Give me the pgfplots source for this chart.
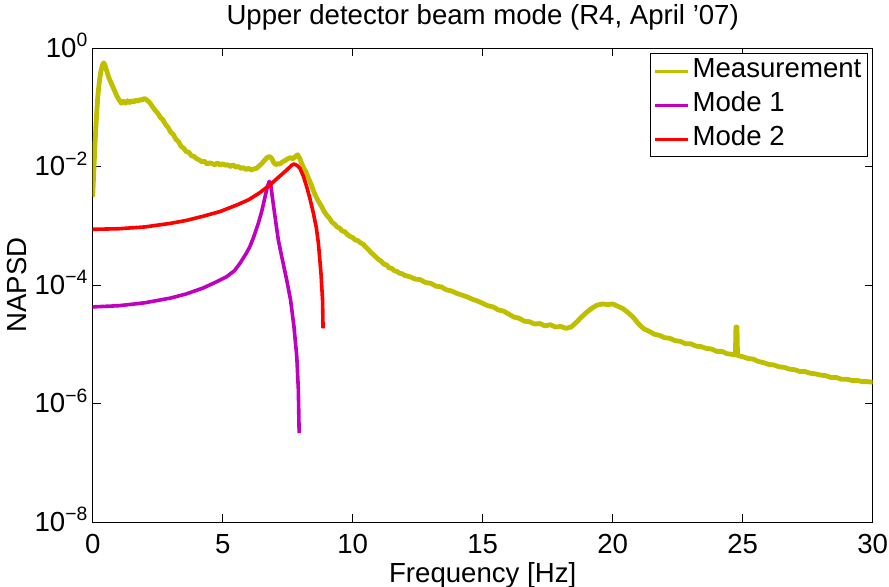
\documentclass[border=0pt]{standalone}
\usepackage{pgfplots}
\pgfplotsset{compat=1.18}
\usepackage{fontspec}
\setmainfont{Liberation Sans}
\definecolor{meas}{rgb}{0.75,0.75,0}
\definecolor{mone}{rgb}{0.75,0,0.75}
\definecolor{mtwo}{rgb}{1,0,0}

\pgfplotstableread{
f v
0.00 3.09e-3
0.04 7.94e-3
0.08 2.00e-2
0.12 4.47e-2
0.16 8.91e-2
0.20 0.158
0.26 0.282
0.32 0.417
0.38 0.525
0.43 0.562
0.48 0.501
0.55 0.398
0.62 0.316
0.70 0.263
0.78 0.219
0.86 0.182
0.94 0.151
1.02 0.132
1.10 0.117
1.18 0.126
1.26 0.117
1.34 0.129
1.42 0.120
1.50 0.129
1.58 0.123
1.66 0.132
1.74 0.126
1.82 0.135
1.90 0.132
1.98 0.141
2.06 0.135
2.14 0.126
2.22 0.115
2.30 0.102
2.40 8.91e-2
2.50 7.94e-2
2.60 6.76e-2
2.70 6.17e-2
2.80 5.13e-2
2.90 4.57e-2
3.00 3.80e-2
3.10 3.47e-2
3.20 2.88e-2
3.30 2.63e-2
3.40 2.19e-2
3.50 2.04e-2
3.60 1.78e-2
3.70 1.74e-2
3.80 1.51e-2
3.90 1.48e-2
4.00 1.35e-2
4.10 1.29e-2
4.20 1.20e-2
4.30 1.23e-2
4.40 1.10e-2
4.50 1.15e-2
4.60 1.12e-2
4.70 1.07e-2
4.80 1.15e-2
4.90 1.05e-2
5.00 1.12e-2
5.10 1.05e-2
5.20 1.07e-2
5.30 1.00e-2
5.40 1.07e-2
5.50 9.77e-3
5.60 1.00e-2
5.70 9.33e-3
5.80 9.55e-3
5.90 8.91e-3
6.00 9.33e-3
6.10 8.71e-3
6.20 9.12e-3
6.30 9.33e-3
6.40 1.02e-2
6.50 1.12e-2
6.60 1.26e-2
6.70 1.41e-2
6.80 1.48e-2
6.88 1.38e-2
6.96 1.17e-2
7.04 1.07e-2
7.12 1.12e-2
7.20 1.10e-2
7.30 1.20e-2
7.40 1.26e-2
7.50 1.35e-2
7.60 1.41e-2
7.70 1.35e-2
7.80 1.48e-2
7.88 1.58e-2
7.96 1.38e-2
8.04 1.12e-2
8.12 9.33e-3
8.20 8.13e-3
8.30 6.31e-3
8.40 5.01e-3
8.50 3.80e-3
8.60 3.02e-3
8.70 2.51e-3
8.80 2.14e-3
8.90 1.74e-3
9.00 1.51e-3
9.10 1.35e-3
9.20 1.15e-3
9.30 1.07e-3
9.40 9.55e-4
9.50 9.12e-4
9.60 8.13e-4
9.70 7.94e-4
9.80 7.08e-4
9.90 6.61e-4
10.0 6.31e-4
10.1 5.75e-4
10.2 5.62e-4
10.3 5.13e-4
10.4 4.90e-4
10.5 4.37e-4
10.6 3.98e-4
10.7 3.55e-4
10.8 3.24e-4
10.9 2.95e-4
11.0 2.69e-4
11.1 2.51e-4
11.2 2.24e-4
11.3 2.19e-4
11.4 1.95e-4
11.5 1.91e-4
11.6 1.74e-4
11.7 1.70e-4
11.8 1.58e-4
11.9 1.55e-4
12.0 1.45e-4
12.2 1.38e-4
12.4 1.26e-4
12.6 1.23e-4
12.8 1.10e-4
13.0 1.07e-4
13.2 9.55e-5
13.4 9.33e-5
13.6 8.32e-5
13.8 7.94e-5
14.0 7.24e-5
14.2 6.76e-5
14.4 6.31e-5
14.6 5.75e-5
14.8 5.37e-5
15.0 4.90e-5
15.2 4.47e-5
15.4 4.27e-5
15.6 3.80e-5
15.8 3.63e-5
16.0 3.24e-5
16.2 2.88e-5
16.4 2.75e-5
16.6 2.45e-5
16.8 2.40e-5
17.0 2.19e-5
17.2 2.24e-5
17.4 2.04e-5
17.6 2.14e-5
17.8 1.95e-5
18.0 2.00e-5
18.2 1.86e-5
18.4 1.95e-5
18.6 2.34e-5
18.8 2.88e-5
19.0 3.47e-5
19.2 4.07e-5
19.4 4.57e-5
19.6 4.79e-5
19.8 4.68e-5
20.0 4.79e-5
20.2 4.37e-5
20.4 3.98e-5
20.6 3.39e-5
20.8 2.82e-5
21.0 2.19e-5
21.2 1.82e-5
21.4 1.66e-5
21.6 1.48e-5
21.8 1.41e-5
22.0 1.29e-5
22.2 1.26e-5
22.4 1.15e-5
22.6 1.12e-5
22.8 1.02e-5
23.0 1.02e-5
23.2 9.33e-6
23.4 9.12e-6
23.6 8.51e-6
23.8 8.32e-6
24.0 7.59e-6
24.2 7.59e-6
24.4 6.92e-6
24.6 6.76e-6
24.72 6.61e-6
24.74 1.95e-5
24.78 1.95e-5
24.80 6.46e-6
25.0 6.17e-6
25.2 5.75e-6
25.4 5.62e-6
25.6 5.13e-6
25.8 4.90e-6
26.0 4.57e-6
26.2 4.47e-6
26.4 4.17e-6
26.6 4.07e-6
26.8 3.80e-6
27.0 3.72e-6
27.2 3.47e-6
27.4 3.47e-6
27.6 3.24e-6
27.8 3.16e-6
28.0 3.02e-6
28.2 2.95e-6
28.4 2.75e-6
28.6 2.75e-6
28.8 2.57e-6
29.0 2.57e-6
29.2 2.45e-6
29.4 2.45e-6
29.6 2.34e-6
29.8 2.34e-6
30.0 2.29e-6
}\measdata

\pgfplotstableread{
f v
0.00 4.27e-5
1.00 4.47e-5
2.00 5.01e-5
3.00 6.03e-5
3.60 7.08e-5
4.25 8.91e-5
4.70 1.10e-4
5.15 1.38e-4
5.45 1.74e-4
5.67 2.34e-4
5.90 3.39e-4
6.05 4.47e-4
6.20 6.61e-4
6.37 1.10e-3
6.50 1.74e-3
6.63 3.09e-3
6.72 4.57e-3
6.79 5.62e-3
6.85 4.79e-3
6.92 2.82e-3
7.01 1.45e-3
7.14 5.75e-4
7.27 3.02e-4
7.46 1.23e-4
7.61 5.62e-5
7.74 2.00e-5
7.85 6.17e-6
7.91 1.70e-6
7.94 3.16e-7
}\modeone

\pgfplotstableread{
f v
0.00 8.71e-4
1.00 8.91e-4
2.00 9.55e-4
3.00 1.10e-3
3.60 1.23e-3
4.25 1.45e-3
4.90 1.74e-3
5.54 2.24e-3
6.00 2.75e-3
6.40 3.55e-3
6.82 4.90e-3
7.15 6.61e-3
7.46 8.71e-3
7.65 1.05e-2
7.74 1.10e-2
7.85 1.05e-2
7.97 9.33e-3
8.10 6.92e-3
8.23 4.57e-3
8.36 2.82e-3
8.49 1.62e-3
8.60 9.33e-4
8.68 5.13e-4
8.78 1.58e-4
8.84 5.62e-5
8.86 1.86e-5
}\modetwo

\begin{document}
\begin{tikzpicture}
\begin{axis}[
  scale only axis,
  width=390pt, height=237pt,
  xmin=0, xmax=30, ymin=1e-8, ymax=1,
  ymode=log,
  font=\fontsize{13.8}{16}\selectfont,
  xtick={0,5,10,15,20,25,30},
  xticklabels={0,5,10,15,20,25,30},
  ytick={1e-8,1e-6,1e-4,1e-2,1},
  yticklabels={10\textsuperscript{−8},10\textsuperscript{−6},10\textsuperscript{−4},10\textsuperscript{−2},10\textsuperscript{0}},
  yminorticks=false,
  tick align=inside,
  major tick length=3.9pt,
  axis line style={line width=0.5pt},
  every tick/.style={black, line width=0.5pt},
  yticklabel style={anchor=base east, inner sep=0pt, xshift=-2pt, yshift=-4.5pt},
  xticklabel style={anchor=base, inner sep=0pt, yshift=-15.5pt},
  title={Upper detector beam mode (R4, April '07)},
  title style={at={(axis description cs:0.5,1.0253)}, anchor=base, inner sep=0pt},
  xlabel={Frequency [Hz]},
  xlabel style={at={(axis description cs:0.5,-0.1266)}, anchor=base, inner sep=0pt},
  ylabel={NAPSD},
  ylabel style={at={(axis description cs:-0.0855,0.5)}, rotate=0, anchor=base, inner sep=0pt},
  legend cell align=left,
  legend style={at={(axis description cs:1,1)}, anchor=north east, xshift=-2.5pt, yshift=-2.7pt,
    draw=black, line width=0.5pt, inner xsep=1.5pt, inner ysep=0pt, row sep=0pt,
    font=\fontsize{13.8}{16}\selectfont,
    nodes={text height=10pt, text depth=3.5pt, inner ysep=1.8pt, inner xsep=1.4pt}},
  legend image code/.code={\draw[#1, line width=1.5pt] (0pt,0pt) -- (16.5pt,0pt);},
]
\addplot[meas, line width=2.4pt, line join=round] table[x=f, y=v] {\measdata};
\addlegendentry{Measurement}
\addplot[mone, line width=1.8pt, line join=round] table[x=f, y=v] {\modeone};
\addlegendentry{Mode 1}
\addplot[mtwo, line width=1.8pt, line join=round] table[x=f, y=v] {\modetwo};
\addlegendentry{Mode 2}
\end{axis}
\pgfresetboundingbox
\path (-46.35pt,-32pt) rectangle (398.15pt,261pt);
\end{tikzpicture}
\end{document}
